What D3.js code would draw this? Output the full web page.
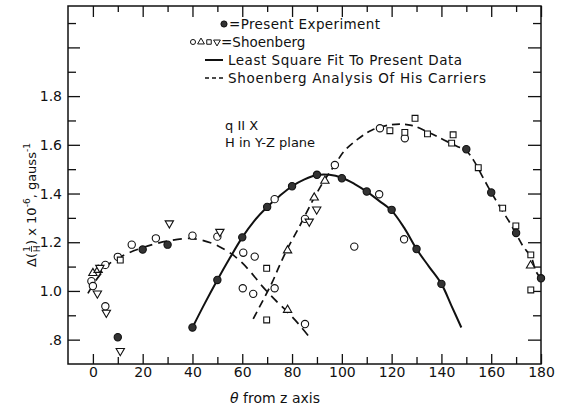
<!DOCTYPE html>
<html>
<head>
<meta charset="utf-8">
<script src="https://cdn.jsdelivr.net/npm/d3@7"></script>
<style>
  body { margin: 0; background: #fff; }
  text { font-family: "DejaVu Sans", sans-serif; fill: #111; }
</style>
</head>
<body>
<div id="container"></div>
<script>
// values: [theta in degrees, delta(1/H) x 1e-6 gauss^-1]
var presentPts = [[10,0.81],[20,1.17],[30,1.19],[40,0.85],[50,1.045],[60,1.22],[70,1.345],
    [80,1.43],[90,1.477],[100,1.463],[110,1.408],[120,1.333],[130,1.172],[140,1.029],
    [150,1.582],[160,1.404],[170,1.238],[180,1.052]];
var shoenCircles = [[-0.6,1.04],[0,1.02],[5,1.107],[10,1.14],[15.6,1.19],[25.3,1.216],[40,1.227],
    [50,1.223],[5,0.937],[60.4,1.157],[65,1.141],[60.2,1.011],[64.4,0.988],[73,1.011],[85.2,0.864],
    [73,1.377],[85.2,1.296],[97.2,1.517],[105,1.182],[115,1.397],[125,1.212],[115.3,1.668],[125.3,1.627]];
var shoenSquares = [[11,1.127],[69.8,1.093],[69.8,0.881],[119.3,1.658],[129.4,1.709],[125.3,1.651],
    [134.4,1.645],[144.7,1.641],[144.1,1.607],[154.8,1.506],[164.6,1.34],[169.9,1.267],[175.9,1.148],[175.9,1.004]];
var shoenTriUp = [[0,1.073],[2.1,1.086],[78.2,1.166],[78.2,0.922],[88.9,1.383],[93.2,1.452],[175.8,1.104]];
var shoenTriDown = [[1.8,0.99],[2.8,1.095],[5.4,0.911],[11,0.754],[30.7,1.278],[51,1.243],[86.9,1.285],[89.9,1.335]];

// least square fit (solid)
var fitCurve = [[40,0.85],[45,0.95],[50,1.045],[55,1.135],[60,1.22],[65,1.29],[70,1.345],[75,1.39],
    [80,1.43],[85,1.458],[90,1.476],[95,1.477],[100,1.465],[105,1.44],[110,1.408],[115,1.37],
    [120,1.33],[125,1.26],[130,1.172],[135,1.10],[140,1.029],[144,0.94],[148,0.85]];
// Shoenberg analysis (dashed)
var shoenLeft = [[-2,0.99],[1,1.04],[3.5,1.075],[7,1.115],[13,1.15],[20,1.178],[30,1.205],[40,1.215],
    [48,1.195],[52,1.175],[56,1.15],[60,1.115],[64,1.07],[68,1.02],[73,0.965],[78,0.915],[83,0.86],[87,0.81]];
var shoenRight = [[64.4,0.885],[68.4,0.963],[72,1.035],[75,1.105],[78,1.17],[83,1.265],[88.5,1.375],
    [93,1.455],[97,1.515],[101,1.575],[106,1.62],[112,1.66],[120,1.683],[128,1.68],[135,1.65],
    [141,1.62],[146,1.595],[150,1.575],[153,1.535],[157,1.46],[160,1.405],[163.5,1.345],[167.5,1.28],
    [170,1.235],[173,1.18],[176,1.14],[178,1.08],[180,1.05]];

var xMajor = d3.range(0, 181, 20);
var xMinor = d3.range(10, 180, 20);
var yMajor = [0.8, 1.0, 1.2, 1.4, 1.6, 1.8, 2.0];
var yMinor = [0.9, 1.1, 1.3, 1.5, 1.7, 1.9, 2.1];

var W = 564, H = 406;
var x = d3.scaleLinear().domain([-10, 180]).range([68, 541]);
var y = d3.scaleLinear().domain([0.7, 2.17]).range([364, 6]);

var svg = d3.select("#container").append("svg")
    .attr("width", W).attr("height", H);

// frame
svg.append("rect")
    .attr("x", x(-10)).attr("y", y(2.17))
    .attr("width", x(180) - x(-10)).attr("height", y(0.7) - y(2.17))
    .attr("fill", "none").attr("stroke", "#111").attr("stroke-width", 1.5);

function styleAxis(g) {
    g.select(".domain").remove();
    g.selectAll("line").attr("stroke", "#111").attr("stroke-width", 1.3);
    g.selectAll("text").attr("font-size", 14).attr("font-family", "DejaVu Sans").attr("fill", "#111");
}
// bottom
svg.append("g").attr("transform", "translate(0," + y(0.7) + ")")
    .call(d3.axisBottom(x).tickValues(xMajor).tickSizeInner(-10).tickSizeOuter(0).tickPadding(3).tickFormat(d3.format("d")))
    .call(styleAxis);
svg.append("g").attr("transform", "translate(0," + y(0.7) + ")")
    .call(d3.axisBottom(x).tickValues(xMinor).tickSizeInner(-7).tickSizeOuter(0).tickFormat(""))
    .call(styleAxis);
// top
svg.append("g").attr("transform", "translate(0," + y(2.17) + ")")
    .call(d3.axisTop(x).tickValues(xMajor).tickSizeInner(-11).tickSizeOuter(0).tickFormat(""))
    .call(styleAxis);
svg.append("g").attr("transform", "translate(0," + y(2.17) + ")")
    .call(d3.axisTop(x).tickValues(xMinor).tickSizeInner(-6).tickSizeOuter(0).tickFormat(""))
    .call(styleAxis);
// left
svg.append("g").attr("transform", "translate(" + x(-10) + ",0)")
    .call(d3.axisLeft(y).tickValues(yMajor).tickSizeInner(-12).tickSizeOuter(0).tickPadding(6)
        .tickFormat(function(d){ return d > 1.85 ? "" : (d < 1 ? ".8" : d3.format(".1f")(d)); }))
    .call(styleAxis);
svg.append("g").attr("transform", "translate(" + x(-10) + ",0)")
    .call(d3.axisLeft(y).tickValues(yMinor).tickSizeInner(-8).tickSizeOuter(0).tickFormat(""))
    .call(styleAxis);
// right
svg.append("g").attr("transform", "translate(" + x(180) + ",0)")
    .call(d3.axisRight(y).tickValues(yMajor).tickSizeInner(-13).tickSizeOuter(0).tickFormat(""))
    .call(styleAxis);
svg.append("g").attr("transform", "translate(" + x(180) + ",0)")
    .call(d3.axisRight(y).tickValues(yMinor).tickSizeInner(-8).tickSizeOuter(0).tickFormat(""))
    .call(styleAxis);

// curves
var line = d3.line()
    .x(function(d){ return x(d[0]); })
    .y(function(d){ return y(d[1]); })
    .curve(d3.curveCatmullRom);
svg.append("path").datum(fitCurve).attr("d", line)
    .attr("fill", "none").attr("stroke", "#111").attr("stroke-width", 2);
svg.append("path").datum(shoenLeft).attr("d", line)
    .attr("fill", "none").attr("stroke", "#111").attr("stroke-width", 1.7).attr("stroke-dasharray", "9,6");
svg.append("path").datum(shoenRight).attr("d", line)
    .attr("fill", "none").attr("stroke", "#111").attr("stroke-width", 1.7).attr("stroke-dasharray", "8,5");

// markers
function markers(data, type, size, rot, filled) {
    svg.append("g").selectAll("path").data(data).enter().append("path")
        .attr("d", d3.symbol().type(type).size(size))
        .attr("transform", function(d){ return "translate(" + x(d[0]) + "," + y(d[1]) + ") rotate(" + rot + ")"; })
        .attr("fill", filled ? "#333" : "#fff")
        .attr("stroke", "#111").attr("stroke-width", 1.1);
}
markers(shoenCircles, d3.symbolCircle, 42, 0, false);
markers(shoenSquares, d3.symbolSquare, 34, 0, false);
markers(shoenTriUp, d3.symbolTriangle, 30, 0, false);
markers(shoenTriDown, d3.symbolTriangle, 30, 180, false);
markers(presentPts, d3.symbolCircle, 42, 0, true);

// legend
var lg = svg.append("g");
lg.append("path").attr("d", d3.symbol().type(d3.symbolCircle).size(30)())
    .attr("transform", "translate(224,24)").attr("fill", "#333").attr("stroke", "#111");
lg.append("text").attr("x", 229).attr("y", 29).attr("font-size", 13.5)
    .attr("textLength", 151).attr("lengthAdjust", "spacing").text("=Present Experiment");
var lsym = [[193, d3.symbolCircle, 0], [201, d3.symbolTriangle, 0], [209, d3.symbolSquare, 0], [217, d3.symbolTriangle, 180]];
lsym.forEach(function(s){
    lg.append("path").attr("d", d3.symbol().type(s[1]).size(20)())
        .attr("transform", "translate(" + s[0] + ",42) rotate(" + s[2] + ")")
        .attr("fill", "#fff").attr("stroke", "#111").attr("stroke-width", 1);
});
lg.append("text").attr("x", 221).attr("y", 47).attr("font-size", 13.5).text("=Shoenberg");
lg.append("line").attr("x1", 205).attr("x2", 223).attr("y1", 60).attr("y2", 60)
    .attr("stroke", "#111").attr("stroke-width", 2);
lg.append("text").attr("x", 228).attr("y", 65).attr("font-size", 13.5)
    .attr("textLength", 234).attr("lengthAdjust", "spacing").text("Least Square Fit To Present Data");
lg.append("line").attr("x1", 205).attr("x2", 223).attr("y1", 78).attr("y2", 78)
    .attr("stroke", "#111").attr("stroke-width", 1.7).attr("stroke-dasharray", "4,3");
lg.append("text").attr("x", 228).attr("y", 83).attr("font-size", 13.5)
    .attr("textLength", 258).attr("lengthAdjust", "spacing").text("Shoenberg Analysis Of His Carriers");

// annotation
svg.append("text").attr("x", 225).attr("y", 130).attr("font-size", 13).text("q II X");
svg.append("text").attr("x", 225).attr("y", 147).attr("font-size", 13).text("H in Y-Z plane");

// x title
var xt = svg.append("text").attr("x", 275).attr("y", 403).attr("font-size", 14).attr("text-anchor", "middle");
xt.append("tspan").attr("font-style", "italic").text("\u03b8");
xt.append("tspan").text(" from z axis");

// y title, rotated, with stacked fraction
var yo = svg.append("g").attr("transform", "translate(36,205) rotate(-90)");
var yl = yo.append("g");
var cur = 0;
function piece(str, size, dy) {
    var t = yl.append("text").attr("x", cur).attr("y", dy).attr("font-size", size).text(str);
    cur += t.node().getComputedTextLength();
    return t;
}
piece("\u0394(", 13, 0);
var fx = cur + 4;
yl.append("text").attr("x", fx).attr("y", -6).attr("font-size", 9).attr("text-anchor", "middle").text("1");
yl.append("text").attr("x", fx).attr("y", 4).attr("font-size", 9).attr("text-anchor", "middle").text("H");
yl.append("line").attr("x1", fx - 3).attr("x2", fx + 3).attr("y1", -4.5).attr("y2", -4.5)
    .attr("stroke", "#111").attr("stroke-width", 0.8);
cur += 8;
piece(") x 10", 13, 0);
piece("-6", 9, -6);
piece(", gauss", 13, 0);
piece("-1", 9, -6);
yl.attr("transform", "translate(" + (-cur / 2) + ",0)");
</script>
</body>
</html>
